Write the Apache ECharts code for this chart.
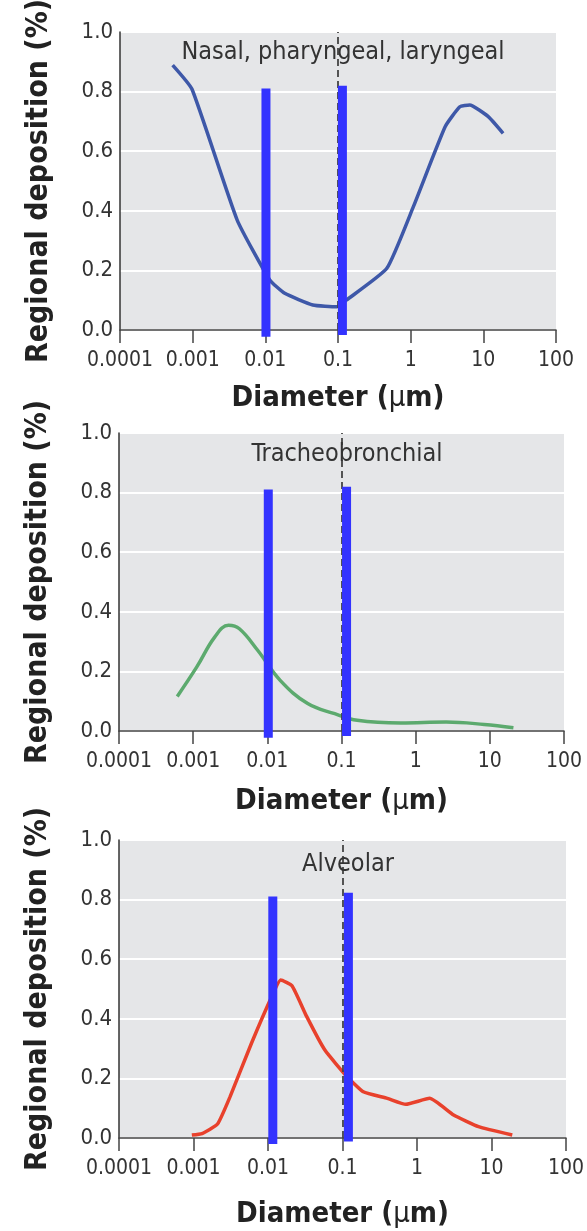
<!DOCTYPE html>
<html>
<head>
<meta charset="utf-8">
<script src="https://cdn.jsdelivr.net/npm/echarts@6/dist/echarts.min.js"></script>
<style>
  html, body { margin: 0; padding: 0; background: #fff; }
  #chart { width: 587px; height: 1231px; }
</style>
</head>
<body>
<div id="chart"></div>
<script>
// tick labels
const xTickLabels = ['0.0001', '0.001', '0.01', '0.1', '1', '10', '100'];
const yTickLabels = ['0.0', '0.2', '0.4', '0.6', '0.8', '1.0'];
const panelTitles = ['Nasal, pharyngeal, laryngeal', 'Tracheobronchial', 'Alveolar'];

// nasal, pharyngeal, laryngeal (blue)
const nasalDiam = [0.00053, 0.00098, 0.0041, 0.0115, 0.0185, 0.045, 0.097, 0.13, 0.47, 1.09, 2.98, 4.75, 6.5, 11.7, 18.7];
const nasalDep  = [0.889, 0.808, 0.369, 0.168, 0.123, 0.084, 0.078, 0.10, 0.207, 0.414, 0.682, 0.749, 0.755, 0.716, 0.66];

// tracheobronchial (green)
const trachDiam = [0.00061, 0.00112, 0.00195, 0.0030, 0.0042, 0.0074, 0.0149, 0.035, 0.081, 0.163, 0.63, 2.57, 8.4, 20.8];
const trachDep  = [0.116, 0.215, 0.315, 0.355, 0.343, 0.271, 0.17, 0.092, 0.058, 0.036, 0.027, 0.030, 0.022, 0.011];

// alveolar (red)
const alvDiam = [0.00095, 0.0013, 0.0021, 0.0031, 0.006, 0.0112, 0.0148, 0.021, 0.033, 0.058, 0.115, 0.19, 0.4, 0.71, 1.48, 3.1, 6.7, 19];
const alvDep  = [0.01, 0.015, 0.047, 0.139, 0.318, 0.474, 0.530, 0.511, 0.408, 0.295, 0.206, 0.155, 0.133, 0.113, 0.133, 0.077, 0.038, 0.01];

// dashed reference line
const dashedAt = 0.1;

// thick blue marker bars per panel: [diameter, bottom, top]
const markerBars = [
  [[0.0102, -0.023, 0.81], [0.115, -0.017, 0.82]],
  [[0.0103, -0.023, 0.81], [0.117, -0.017, 0.82]],
  [[0.0116, -0.020, 0.81], [0.12, -0.012, 0.823]]
];

const curveX = [nasalDiam, trachDiam, alvDiam];
const curveY = [nasalDep, trachDep, alvDep];
const curveColors = ['#3e58a8', '#5caa6e', '#e8412c'];
const curveSmooth = [0.15, 0.4, 0.15];

const FONT = "'Liberation Sans Narrow', 'DejaVu Sans Condensed', 'Arial Narrow', sans-serif";

const grids = [
  { left: 120, top: 32, width: 436, height: 298 },
  { left: 119, top: 433, width: 445, height: 298 },
  { left: 119, top: 840, width: 447, height: 298 }
];
const titleX = [338, 342, 343];
const titleTop = [35, 437, 847];
const xNameGap = [54, 56, 62];

const myChart = echarts.init(document.getElementById('chart'));

const option = {
  backgroundColor: '#fff',
  animation: false,
  title: panelTitles.map(function (t, i) {
    return {
      text: t,
      left: titleX[i],
      top: titleTop[i],
      textAlign: 'center',
      textStyle: { fontFamily: FONT, fontSize: 25, fontWeight: 'normal', color: '#333' },
      z: 5
    };
  }),
  grid: grids.map(function (g) {
    return Object.assign({ show: true, backgroundColor: '#e5e6e8', borderWidth: 0, outerBoundsMode: 'none' }, g);
  }),
  xAxis: grids.map(function (g, i) {
    return {
      type: 'log',
      logBase: 10,
      gridIndex: i,
      min: 0.0001,
      max: 100,
      splitNumber: 6,
      name: 'Diameter ({mu|μ}m)',
      nameLocation: 'middle',
      nameGap: xNameGap[i],
      nameTextStyle: {
        fontFamily: FONT, fontSize: 29, fontWeight: 'bold', color: '#222',
        rich: { mu: { fontFamily: FONT, fontSize: 29, fontWeight: 'normal', color: '#222' } }
      },
      axisLine: { show: true, onZero: false, lineStyle: { color: '#444', width: 1.5 } },
      axisTick: { show: true, length: 13, lineStyle: { color: '#444', width: 1.5 } },
      minorTick: { show: false },
      splitLine: { show: false },
      axisLabel: {
        margin: 20,
        fontFamily: FONT,
        fontSize: 21,
        color: '#333',
        formatter: function (v) {
          return xTickLabels[Math.round(Math.log10(v)) + 4];
        }
      }
    };
  }),
  yAxis: grids.map(function (g, i) {
    return {
      type: 'value',
      gridIndex: i,
      min: 0,
      max: 1,
      interval: 0.2,
      name: 'Regional deposition (%)',
      nameLocation: 'middle',
      nameGap: 66,
      nameTextStyle: { fontFamily: FONT, fontSize: 30, fontWeight: 'bold', color: '#222' },
      axisLine: { show: true, lineStyle: { color: '#333', width: 1.5 } },
      axisTick: { show: false },
      splitLine: { show: true, lineStyle: { color: '#ffffff', width: 2 } },
      axisLabel: {
        margin: 7,
        fontFamily: FONT,
        fontSize: 22,
        color: '#333',
        formatter: function (v) {
          return yTickLabels[Math.round(v / 0.2)];
        }
      }
    };
  }),
  series: []
};

grids.forEach(function (g, i) {
  option.series.push({
    type: 'line',
    xAxisIndex: i,
    yAxisIndex: i,
    data: curveX[i].map(function (x, k) { return [x, curveY[i][k]]; }),
    smooth: curveSmooth[i],
    symbol: 'none',
    lineStyle: { color: curveColors[i], width: 3.5 },
    z: 3,
    markLine: {
      silent: true,
      symbol: 'none',
      label: { show: false },
      lineStyle: { color: '#444', width: 1.8, type: [7, 4] },
      data: [{ xAxis: dashedAt }]
    }
  });
  markerBars[i].forEach(function (b) {
    option.series.push({
      type: 'line',
      xAxisIndex: i,
      yAxisIndex: i,
      data: [[b[0], b[1]], [b[0], b[2]]],
      symbol: 'none',
      clip: false,
      silent: true,
      lineStyle: { color: '#3333ff', width: 9, cap: 'butt' },
      z: 6
    });
  });
});

myChart.setOption(option);
window.addEventListener('resize', function () {
  myChart.resize();
});
</script>
</body>
</html>
